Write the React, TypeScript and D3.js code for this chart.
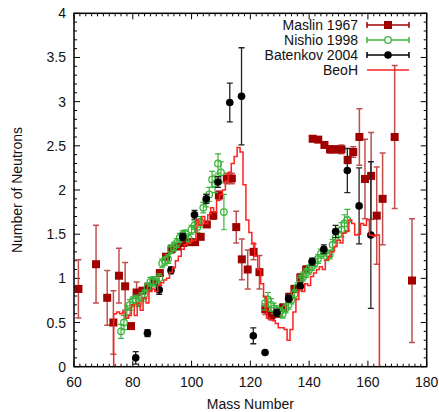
import React, {useEffect, useRef} from 'react';
import * as d3 from 'd3';

// Maslin 1967
const maslinA = [61.5, 67.5, 71.3, 73.4, 75.3, 77.4, 79.4, 81.3, 83.3, 85.3, 87.3, 89.2, 91.3, 93.2, 95.2, 97.2, 99.3, 101.2, 103.1, 105.2, 107.4, 109.3, 112.0, 113.7, 115.2, 117.1, 119.1, 121.1, 123.1, 125.1, 127.2, 129.2, 131.1, 133.2, 135.0, 137.0, 139.0, 141.2, 143.1, 145.2, 147.1, 148.9, 151.0, 153.1, 155.0, 157.1, 159.0, 161.1, 163.0, 165.0, 169.1, 175.0];
const maslinN = [0.88, 1.16, 0.78, 0.50, 1.03, 0.91, 0.46, 0.84, 0.86, 0.90, 0.96, 1.06, 1.245, 1.33, 1.36, 1.40, 1.41, 1.41, 1.47, 1.61, 1.71, 1.94, 2.13, 2.13, 1.58, 1.215, 1.10, 1.30, 1.07, 0.65, 0.58, 0.60, 0.67, 0.79, 0.88, 1.01, 1.10, 2.58, 2.57, 2.51, 2.46, 2.46, 2.46, 2.34, 2.43, 2.60, 2.125, 2.16, 1.71, 1.90, 2.60, 0.975];
const maslinErr = [0.33, 0.44, 0.31, 0.36, 0.31, 0.27, 0.03, 0.12, 0.03, 0.03, 0.03, 0.03, 0.03, 0.03, 0.03, 0.03, 0.03, 0.03, 0.03, 0.03, 0.04, 0.05, 0.06, 0.06, 0.18, 0.23, 0.22, 0.09, 0.19, 0.06, 0.05, 0.04, 0.04, 0.04, 0.04, 0.04, 0.04, 0.02, 0.02, 0.03, 0.04, 0.04, 0.05, 0.04, 0.06, 0.32, 0.45, 0.49, 0.55, 0.52, 0.81, 0.70];

// Nishio 1998
const nishioA = [76, 77, 78, 79, 80, 81, 82, 83, 84, 85, 86, 87, 88, 89, 90, 91, 92, 93, 94, 95, 96, 97, 98, 99, 100, 101, 102, 103, 104, 105, 106, 107, 108, 109, 110, 111,
    125, 126, 127, 128, 129, 130, 131, 132, 133, 134, 135, 136, 137, 138, 139, 140, 141, 142, 143, 144, 145, 146, 147, 148, 149, 150, 151, 152, 153];
const nishioN = [0.40, 0.50, 0.62, 0.70, 0.74, 0.76, 0.73, 0.79, 0.82, 0.90, 0.96, 0.97, 0.95, 1.00, 1.17, 1.20, 1.22, 1.33, 1.36, 1.40, 1.46, 1.49, 1.50, 1.45, 1.55, 1.60, 1.58, 1.64, 1.80, 1.88, 1.95, 2.12, 2.07, 2.30, 2.20, 1.75,
    0.72, 0.76, 0.70, 0.66, 0.64, 0.62, 0.60, 0.66, 0.70, 0.76, 0.82, 0.90, 0.98, 1.02, 1.06, 1.10, 1.14, 1.18, 1.22, 1.28, 1.30, 1.25, 1.27, 1.38, 1.46, 1.50, 1.55, 1.62, 1.66];
const nishioErr = [0.08, 0.08, 0.07, 0.06, 0.05, 0.05, 0.05, 0.05, 0.05, 0.05, 0.05, 0.05, 0.05, 0.05, 0.05, 0.05, 0.05, 0.05, 0.05, 0.05, 0.05, 0.05, 0.05, 0.05, 0.05, 0.05, 0.06, 0.06, 0.06, 0.07, 0.08, 0.09, 0.1, 0.11, 0.12, 0.2,
    0.08, 0.08, 0.07, 0.06, 0.05, 0.05, 0.05, 0.05, 0.05, 0.05, 0.05, 0.05, 0.05, 0.05, 0.05, 0.05, 0.05, 0.05, 0.05, 0.05, 0.05, 0.05, 0.05, 0.06, 0.06, 0.07, 0.08, 0.1, 0.12];

// Batenkov 2004
const batenkovA = [81, 85, 89, 93, 97, 101, 105, 109, 113, 117, 121, 125, 129, 133, 137, 141, 145, 149, 153, 157, 161];
const batenkovN = [0.10, 0.38, 0.87, 1.09, 1.47, 1.72, 1.90, 2.09, 2.99, 3.06, 0.35, 0.16, 0.61, 0.77, 0.91, 1.19, 1.33, 1.53, 2.22, 1.82, 1.49];
const batenkovErr = [0.07, 0.04, 0.05, 0.04, 0.04, 0.05, 0.05, 0.06, 0.22, 0.55, 0.09, 0.02, 0.04, 0.04, 0.04, 0.04, 0.05, 0.07, 0.25, 0.43, 0.83];

// BeoH, one value per mass number from 74 to 163
const beohA = d3.range(74, 164);
const beohN = [0.60, 0.62, 0.60, 0.62, 0.55, 0.58, 0.70, 0.58, 0.72, 0.64, 0.78, 0.72, 0.85, 0.88, 0.85, 0.92, 0.95, 0.98, 1.00, 1.07,
    1.12, 1.20, 1.25, 1.33, 1.38, 1.40, 1.42, 1.43, 1.66, 1.60, 1.70, 1.62, 1.72, 1.80, 1.75, 1.88, 1.95, 2.00, 2.10, 2.20,
    2.30, 2.38, 2.48, 2.43, 2.06, 1.66, 1.52, 1.40, 1.25, 1.10, 0.94, 0.79, 0.55, 0.53, 0.52, 0.49, 0.44, 0.44, 0.42, 0.30,
    0.42, 0.62, 0.76, 0.87, 0.85, 0.94, 0.92, 1.02, 1.06, 1.10, 1.13, 1.10, 1.21, 1.25, 1.30, 1.36, 1.43, 1.40, 1.51, 1.53,
    1.66, 1.62, 1.49, 1.50, 1.62, 1.60, 1.66, 1.49, 1.48, 1.49];

const xTicks = [60, 80, 100, 120, 140, 160, 180];
const yTicks = [0, 0.5, 1, 1.5, 2, 2.5, 3, 3.5, 4];
const legendLabels = ['Maslin 1967', 'Nishio 1998', 'Batenkov 2004', 'BeoH'];

const W = 439, H = 412;
const left = 74, right = 426.7, top = 13.3, bottom = 366.7;
const FONT = '"Liberation Sans", Arial, Helvetica, sans-serif';

const MASLIN = '#a00000';
const MASLIN_BAR = '#c05050';
const NISHIO = '#3cb43c';
const BEOH = '#ff2020';

const App = () => {
    const anchor = useRef<SVGSVGElement>(null);

    useEffect(() => {
        const svg = d3.select(anchor.current);
        svg.selectAll('*').remove();

        const x = d3.scaleLinear().domain([60, 180]).range([left, right]);
        const y = d3.scaleLinear().domain([0, 4]).range([bottom, top]);

        svg.append('defs').append('clipPath').attr('id', 'plotclip')
            .append('rect').attr('x', left).attr('y', top)
            .attr('width', right - left).attr('height', bottom - top);

        // ticks on all four sides, pointing inward
        const axes = svg.append('g').attr('stroke', 'black').attr('stroke-width', 1);
        d3.range(60, 181, 2).forEach((t) => {
            const len = t % 20 === 0 ? 6 : 3;
            axes.append('line').attr('x1', x(t)).attr('x2', x(t)).attr('y1', bottom).attr('y2', bottom - len);
            axes.append('line').attr('x1', x(t)).attr('x2', x(t)).attr('y1', top).attr('y2', top + len);
        });
        d3.range(0, 41).forEach((i) => {
            const t = i / 10;
            const len = i % 5 === 0 ? 6 : 3;
            axes.append('line').attr('x1', left).attr('x2', left + len).attr('y1', y(t)).attr('y2', y(t));
            axes.append('line').attr('x1', right).attr('x2', right - len).attr('y1', y(t)).attr('y2', y(t));
        });

        const labels = svg.append('g').attr('font-family', FONT).attr('font-size', 14).attr('fill', '#111');
        xTicks.forEach((t) => {
            labels.append('text').attr('x', x(t)).attr('y', 387).attr('text-anchor', 'middle').text(t);
        });
        yTicks.forEach((t) => {
            labels.append('text').attr('x', 66).attr('y', y(t) + 5).attr('text-anchor', 'end').text(t);
        });
        labels.append('text').attr('x', (left + right) / 2).attr('y', 409).attr('text-anchor', 'middle').text('Mass Number');
        labels.append('text').attr('transform', 'translate(22,190) rotate(-90)').attr('text-anchor', 'middle').text('Number of Neutrons');

        const plot = svg.append('g').attr('clip-path', 'url(#plotclip)');

        /** error bars with caps */
        function errorBars(g, as, ns, es, color, cap, width) {
            as.forEach((a, i) => {
                const x0 = x(a), y1 = y(ns[i] + es[i]), y2 = y(ns[i] - es[i]);
                g.append('line').attr('x1', x0).attr('x2', x0).attr('y1', y1).attr('y2', y2)
                    .attr('stroke', color).attr('stroke-width', width);
                [y1, y2].forEach((yy) => {
                    g.append('line').attr('x1', x0 - cap).attr('x2', x0 + cap).attr('y1', yy).attr('y2', yy)
                        .attr('stroke', color).attr('stroke-width', width);
                });
            });
        }

        // Maslin
        const gm = plot.append('g');
        errorBars(gm, maslinA, maslinN, maslinErr, MASLIN_BAR, 3, 1.5);
        gm.selectAll('rect').data(maslinA).enter().append('rect')
            .attr('x', (d) => x(d) - 4).attr('y', (d, i) => y(maslinN[i]) - 4)
            .attr('width', 8).attr('height', 8).attr('fill', MASLIN);

        // Nishio
        const gn = plot.append('g');
        errorBars(gn, nishioA, nishioN, nishioErr, NISHIO, 3, 1.2);
        gn.selectAll('circle').data(nishioA).enter().append('circle')
            .attr('cx', (d) => x(d)).attr('cy', (d, i) => y(nishioN[i])).attr('r', 3.3)
            .attr('fill', 'none').attr('stroke', NISHIO).attr('stroke-width', 1.3);

        // Batenkov
        const gb = plot.append('g');
        errorBars(gb, batenkovA, batenkovN, batenkovErr, '#222', 3, 1.3);
        gb.selectAll('circle').data(batenkovA).enter().append('circle')
            .attr('cx', (d) => x(d)).attr('cy', (d, i) => y(batenkovN[i])).attr('r', 3.8).attr('fill', 'black');

        // BeoH stepped line
        const pts: [number, number][] = [[beohA[0] - 0.5, 0]];
        beohA.forEach((a, i) => pts.push([a - 0.5, beohN[i]]));
        pts.push([beohA[beohA.length - 1] + 0.9, 0]);
        const line = d3.line<[number, number]>().x((d) => x(d[0])).y((d) => y(d[1])).curve(d3.curveStepAfter);
        plot.append('path').attr('d', line(pts)).attr('fill', 'none').attr('stroke', BEOH).attr('stroke-width', 1.5);

        // frame
        svg.append('rect').attr('x', left).attr('y', top).attr('width', right - left).attr('height', bottom - top)
            .attr('fill', 'none').attr('stroke', 'black').attr('stroke-width', 1.5);

        // legend
        const lg = svg.append('g').attr('font-family', FONT).attr('font-size', 14);
        const rows = [25, 40, 55, 70];
        const colors = [MASLIN, NISHIO, 'black', BEOH];
        legendLabels.forEach((lab, i) => {
            const yy = rows[i];
            lg.append('text').attr('x', 358).attr('y', yy + 5).attr('text-anchor', 'end').attr('fill', '#111').text(lab);
            lg.append('line').attr('x1', 367).attr('x2', 409).attr('y1', yy).attr('y2', yy)
                .attr('stroke', colors[i]).attr('stroke-width', 1.5);
            if (i < 3) {
                [367, 409].forEach((xx) => {
                    lg.append('line').attr('x1', xx).attr('x2', xx).attr('y1', yy - 3).attr('y2', yy + 3)
                        .attr('stroke', colors[i]).attr('stroke-width', 1.5);
                });
            }
        });
        lg.append('rect').attr('x', 384).attr('y', rows[0] - 4).attr('width', 8).attr('height', 8).attr('fill', MASLIN);
        lg.append('circle').attr('cx', 388).attr('cy', rows[1]).attr('r', 3.3).attr('fill', 'white')
            .attr('stroke', NISHIO).attr('stroke-width', 1.3);
        lg.append('circle').attr('cx', 388).attr('cy', rows[2]).attr('r', 3.8).attr('fill', 'black');
    }, []);

    return <svg ref={anchor} width={W} height={H}
                style={{position: 'absolute', left: 0, top: 0, background: 'white'}}/>;
};

export default App;
